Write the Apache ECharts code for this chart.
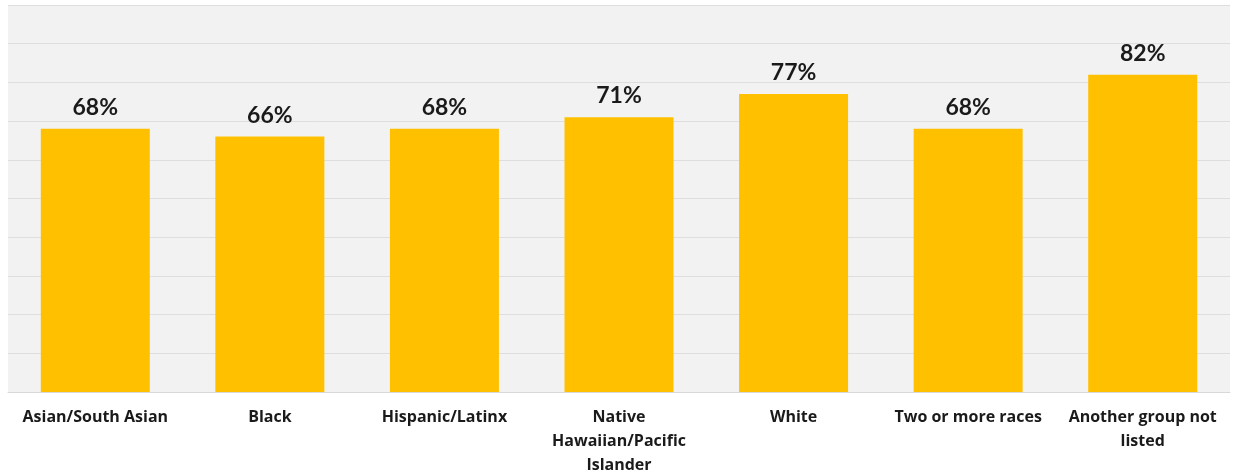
<!DOCTYPE html>
<html>
<head>
<meta charset="utf-8">
<script src="https://cdn.jsdelivr.net/npm/echarts@6/dist/echarts.min.js"></script>
<style>
  html, body { margin: 0; padding: 0; background: #ffffff; }
  #chart { width: 1235px; height: 475px; }
</style>
</head>
<body>
<div id="chart"></div>
<script>
// Share of respondents by race/ethnicity group
const categories = [
  'Asian/South Asian',
  'Black',
  'Hispanic/Latinx',
  'Native\nHawaiian/Pacific\nIslander',
  'White',
  'Two or more races',
  'Another group not\nlisted'
];
const values = [68, 66, 68, 71, 77, 68, 82];

const chart = echarts.init(document.getElementById('chart'), null, { renderer: 'canvas' });

chart.setOption({
  animation: false,
  backgroundColor: '#ffffff',
  grid: {
    left: 8, right: 5, top: 5, bottom: 83,
    outerBoundsMode: 'none',
    containLabel: false,
    show: true, backgroundColor: '#f2f2f2', borderWidth: 0
  },
  xAxis: {
    type: 'category',
    data: categories,
    axisLine: { show: true, lineStyle: { color: '#d9d9d9', width: 1 } },
    axisTick: { show: false },
    axisLabel: {
      interval: 0,
      margin: 13,
      color: '#1a1a1a',
      fontFamily: 'Open Sans',
      fontWeight: 'bold',
      fontSize: 16,
      lineHeight: 24
    }
  },
  yAxis: {
    type: 'value',
    min: 0, max: 100, interval: 10,
    axisLabel: { show: false },
    axisLine: { show: false },
    axisTick: { show: false },
    splitLine: { lineStyle: { color: '#dedede', width: 1 } }
  },
  series: [{
    type: 'bar',
    data: values,
    barWidth: 109,
    itemStyle: { color: '#ffc000' },
    label: {
      show: true,
      position: 'top',
      distance: 10,
      formatter: p => p.value + '%',
      color: '#1a1a1a',
      fontFamily: 'Lato',
      fontWeight: 'bold',
      fontSize: 23
    }
  }]
});
</script>
</body>
</html>
